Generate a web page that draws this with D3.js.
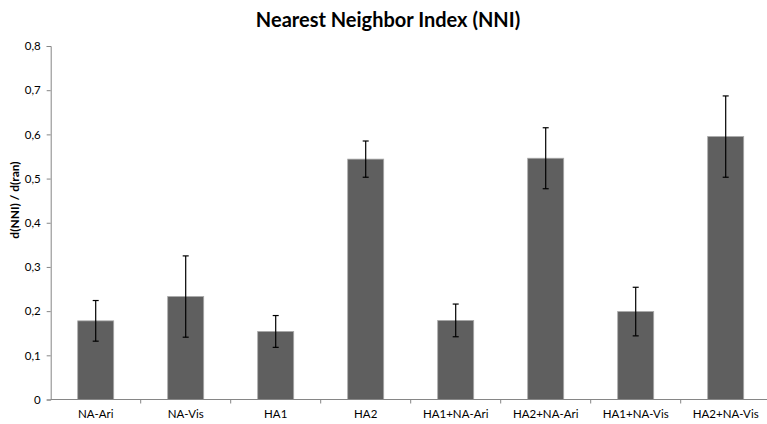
<!DOCTYPE html>
<html>
<head>
<meta charset="utf-8">
<script src="https://cdn.jsdelivr.net/npm/d3@7"></script>
<style>
  html, body { margin: 0; padding: 0; background: #fff; }
  svg { display: block; }
  text { font-family: Lato, "Open Sans", sans-serif; }
</style>
</head>
<body>
<svg id="chart" width="767" height="424"></svg>
<script>
// Nearest Neighbor Index per condition, with error margins
const categories = ["NA-Ari", "NA-Vis", "HA1", "HA2", "HA1+NA-Ari", "HA2+NA-Ari", "HA1+NA-Vis", "HA2+NA-Vis"];
const values = [0.178, 0.233, 0.154, 0.544, 0.179, 0.546, 0.199, 0.595];
const errors = [0.046, 0.092, 0.036, 0.041, 0.037, 0.069, 0.055, 0.092];
const yTicks = [0, 0.1, 0.2, 0.3, 0.4, 0.5, 0.6, 0.7, 0.8];

const svg = d3.select("#chart");
const plotLeft = 50.7, plotTop = 46, plotBottom = 399.5, plotRight = 770.7;

const x = d3.scaleBand().domain(categories).range([plotLeft, plotRight]).paddingInner(0.6).paddingOuter(0.3);
const y = d3.scaleLinear().domain([0, 0.8]).range([plotBottom, plotTop]);
const fmt = v => v === 0 ? "0" : d3.format(".1f")(v).replace(".", ",");

// Title
svg.append("text")
  .attr("x", 388).attr("y", 27)
  .attr("text-anchor", "middle")
  .attr("font-size", 20).attr("font-weight", "bold")
  .attr("fill", "#000")
  .text("Nearest Neighbor Index (NNI)");

// Y axis
const yAxis = svg.append("g")
  .attr("transform", `translate(${plotLeft},0)`)
  .call(d3.axisLeft(y).tickValues(yTicks).tickFormat(fmt).tickSize(4).tickPadding(6));
yAxis.select(".domain").attr("stroke", "#868686");
yAxis.selectAll(".tick line").attr("stroke", "#868686");
yAxis.selectAll(".tick text").attr("font-size", 11.5).attr("fill", "#000")
  .attr("font-family", "Lato, 'Open Sans', sans-serif");

// Y axis title
svg.append("text")
  .attr("transform", "translate(19,200) rotate(-90)")
  .attr("text-anchor", "middle")
  .attr("font-size", 12).attr("font-weight", "bold")
  .text("d(NNI) / d(ran)");

// Bars
svg.append("g").selectAll("rect")
  .data(categories)
  .join("rect")
  .attr("x", d => x(d))
  .attr("width", x.bandwidth())
  .attr("y", (d, i) => y(values[i]))
  .attr("height", (d, i) => y(0) - y(values[i]))
  .attr("fill", "#5f5f5f")
  .attr("stroke", "#a9a9a9")
  .attr("stroke-width", 0.8);

// X axis line and category separators
const xAxis = svg.append("g");
xAxis.append("line")
  .attr("x1", plotLeft).attr("x2", plotRight)
  .attr("y1", plotBottom).attr("y2", plotBottom)
  .attr("stroke", "#868686");
xAxis.selectAll("line.sep")
  .data(d3.range(1, categories.length))
  .join("line")
  .attr("class", "sep")
  .attr("x1", i => plotLeft + i * (plotRight - plotLeft) / categories.length)
  .attr("x2", i => plotLeft + i * (plotRight - plotLeft) / categories.length)
  .attr("y1", plotBottom).attr("y2", plotBottom + 4)
  .attr("stroke", "#868686");
xAxis.selectAll("text")
  .data(categories)
  .join("text")
  .attr("x", d => x(d) + x.bandwidth() / 2)
  .attr("y", 418)
  .attr("text-anchor", "middle")
  .attr("font-size", 11.5)
  .attr("fill", "#000")
  .text(d => d);

// Error bars
const eb = svg.append("g").attr("stroke", "#000").attr("stroke-width", 1.2);
categories.forEach((c, i) => {
  const cx = x(c) + x.bandwidth() / 2;
  const hi = y(values[i] + errors[i]), lo = y(values[i] - errors[i]);
  eb.append("line").attr("x1", cx).attr("x2", cx).attr("y1", hi).attr("y2", lo);
  eb.append("line").attr("x1", cx - 3).attr("x2", cx + 3).attr("y1", hi).attr("y2", hi);
  eb.append("line").attr("x1", cx - 3).attr("x2", cx + 3).attr("y1", lo).attr("y2", lo);
});
</script>
</body>
</html>
